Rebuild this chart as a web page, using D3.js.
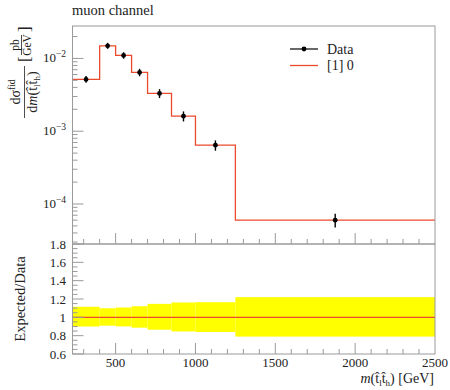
<!DOCTYPE html>
<html><head><meta charset="utf-8">
<script src="https://cdn.jsdelivr.net/npm/d3@7"></script>
<style>body{margin:0;background:#fff}svg{display:block}</style>
</head><body><svg id="c" width="450" height="390"></svg>
<script>
const binEdges = [230, 400, 500, 600, 700, 850, 1000, 1250, 2500];
const dataValues = [5.15e-3, 1.49e-2, 1.10e-2, 6.42e-3, 3.3e-3, 1.61e-3, 6.42e-4, 6.0e-5];
const predValues = [5.15e-3, 1.49e-2, 1.10e-2, 6.42e-3, 3.3e-3, 1.61e-3, 6.42e-4, 6.0e-5];
const relErrUp = [0.115, 0.099, 0.107, 0.121, 0.147, 0.162, 0.165, 0.22];
const relErrDn = [0.10, 0.091, 0.099, 0.113, 0.135, 0.154, 0.16, 0.21];
const xTickLabels = [500, 1000, 1500, 2000, 2500];
const yTickLabels = [-4, -3, -2];
const ratioTickLabels = [0.6, 0.8, 1, 1.2, 1.4, 1.6, 1.8];

const L = 72.5, R = 435, T = 26, M = 244, B = 354;
const gray = "#9a9a9a", red = "#ec4a2c", ink = "#222";
const FONT = "Liberation Serif";
const svg = d3.select("#c").attr("font-family", FONT);
const x = d3.scaleLinear().domain([binEdges[0], 2500]).range([L, R]);
const y = d3.scaleLog().domain([2.82e-5, 0.0279]).range([M, T]);
const yr = d3.scaleLinear().domain([0.6, 1.8]).range([B, M]);

const bins = dataValues.map((v, i) => ({x0: binEdges[i], x1: binEdges[i+1], v, p: predValues[i], up: relErrUp[i], dn: relErrDn[i]}));

// ratio band
svg.append("g").selectAll("rect").data(bins).join("rect")
  .attr("x", d => x(d.x0)).attr("width", d => x(d.x1) - x(d.x0))
  .attr("y", d => yr(1 + d.up)).attr("height", d => yr(1 - d.dn) - yr(1 + d.up))
  .attr("fill", "#ffff00");
// ratio line
const ratioLine = d3.line().curve(d3.curveStepAfter).x(d => x(d.x)).y(d => yr(d.r));
const rpts = bins.map(d => ({x: d.x0, r: d.p / d.v})).concat([{x: 2500, r: bins[bins.length-1].p / bins[bins.length-1].v}]);
svg.append("path").attr("d", ratioLine(rpts)).attr("fill", "none").attr("stroke", red).attr("stroke-width", 1.3);

// histogram
const hpts = bins.map(d => ({x: d.x0, v: d.p})).concat([{x: 2500, v: bins[bins.length-1].p}]);
const hline = d3.line().curve(d3.curveStepAfter).x(d => x(d.x)).y(d => y(d.v));
svg.append("path").attr("d", hline(hpts)).attr("fill", "none").attr("stroke", red).attr("stroke-width", 1.3);

// data points
const pg = svg.append("g");
pg.selectAll("line").data(bins).join("line")
  .attr("x1", d => x((d.x0 + d.x1) / 2)).attr("x2", d => x((d.x0 + d.x1) / 2))
  .attr("y1", d => y(d.v * (1 + d.up))).attr("y2", d => y(d.v * (1 - d.dn)))
  .attr("stroke", "#000").attr("stroke-width", 1.4);
pg.selectAll("circle").data(bins).join("circle")
  .attr("cx", d => x((d.x0 + d.x1) / 2)).attr("cy", d => y(d.v)).attr("r", 2.4).attr("fill", "#000");

// ticks
function xTicks(bottom) {
  const g = svg.append("g").attr("stroke", gray).attr("stroke-width", 1);
  const minors = d3.range(300, 2500, 100).filter(v => v % 500 !== 0);
  g.selectAll(".mi").data(minors).join("line").attr("x1", d => x(d)).attr("x2", d => x(d)).attr("y1", bottom).attr("y2", bottom - 5);
  g.selectAll(".ma").data(xTickLabels.filter(v => v < 2500)).join("line").attr("x1", d => x(d)).attr("x2", d => x(d)).attr("y1", bottom).attr("y2", bottom - 11);
}
xTicks(M); xTicks(B);

// log y ticks
const yg = svg.append("g").attr("stroke", gray);
const ymin = [];
for (let e = -5; e <= -2; e++) for (let k = 2; k <= 9; k++) { const v = k * Math.pow(10, e); if (v > 2.82e-5 && v < 0.0279) ymin.push(v); }
yg.selectAll(".mi").data(ymin).join("line").attr("x1", L).attr("x2", L + 5).attr("y1", d => y(d)).attr("y2", d => y(d));
yg.selectAll(".ma").data(yTickLabels).join("line").attr("x1", L).attr("x2", L + 11).attr("y1", d => y(Math.pow(10, d))).attr("y2", d => y(Math.pow(10, d)));
const ylab = svg.append("g").attr("fill", ink).selectAll("text").data(yTickLabels).join("text")
  .attr("x", 66).attr("y", d => y(Math.pow(10, d)) + 4).attr("text-anchor", "end").attr("font-size", 13);
ylab.append("tspan").text("10");
ylab.append("tspan").attr("dy", -5).attr("font-size", 9.5).text(d => "\u2212" + (-d));

// ratio y ticks
const rg = svg.append("g").attr("stroke", gray);
const rmin = d3.range(0.65, 1.8, 0.05).filter(v => Math.abs(v * 5 - Math.round(v * 5)) > 0.01);
rg.selectAll(".mi").data(rmin).join("line").attr("x1", L).attr("x2", L + 5).attr("y1", d => yr(d)).attr("y2", d => yr(d));
rg.selectAll(".ma").data(ratioTickLabels).join("line").attr("x1", L).attr("x2", L + 11).attr("y1", d => yr(d)).attr("y2", d => yr(d));
svg.append("g").attr("fill", ink).selectAll("text").data(ratioTickLabels).join("text")
  .attr("x", 66).attr("y", d => yr(d) + 4.5).attr("text-anchor", "end").attr("font-size", 13).text(d => d === 1 ? "1" : d.toFixed(1));

// x tick labels
svg.append("g").attr("fill", ink).selectAll("text").data(xTickLabels).join("text")
  .attr("x", d => x(d)).attr("y", 367).attr("text-anchor", "middle").attr("font-size", 13).text(d => d);

// frames
svg.append("rect").attr("x", L).attr("y", T).attr("width", R - L).attr("height", M - T).attr("fill", "none").attr("stroke", gray);
svg.append("rect").attr("x", L).attr("y", M).attr("width", R - L).attr("height", B - M).attr("fill", "none").attr("stroke", gray);

const tg = svg.append("g").attr("fill", ink);
// title
tg.append("text").attr("x", 72).attr("y", 15).attr("font-size", 14.5).text("muon channel");

// legend
svg.append("line").attr("x1", 290).attr("x2", 318).attr("y1", 49).attr("y2", 49).attr("stroke", "#000").attr("stroke-width", 1.2);
svg.append("circle").attr("cx", 304).attr("cy", 49).attr("r", 2.4).attr("fill", "#000");
tg.append("text").attr("x", 327).attr("y", 53.5).attr("font-size", 14).text("Data");
svg.append("line").attr("x1", 290).attr("x2", 318).attr("y1", 65.5).attr("y2", 65.5).attr("stroke", red).attr("stroke-width", 1.3);
tg.append("text").attr("x", 327).attr("y", 70).attr("font-size", 14).text("[1] 0");

// x label
const xl = tg.append("text").attr("x", 434).attr("y", 383).attr("text-anchor", "end").attr("font-size", 14);
xl.append("tspan").attr("font-style", "italic").text("m");
xl.append("tspan").text("(t\u0302");
xl.append("tspan").attr("font-size", 9).attr("dy", 3).text("l");
xl.append("tspan").attr("dy", -3).text("t\u0302");
xl.append("tspan").attr("font-size", 9).attr("dy", 3).text("h");
xl.append("tspan").attr("dy", -3).text(") [GeV]");

// ratio y label
tg.append("text").attr("transform", `translate(25,${(M + B) / 2}) rotate(-90)`).attr("text-anchor", "middle").attr("font-size", 14.5).text("Expected/Data");

// main y label
const yl = tg.append("g").attr("transform", "rotate(-90)");
const num = yl.append("text").attr("x", -92).attr("y", 20).attr("text-anchor", "middle").attr("font-size", 14);
num.append("tspan").text("d\u03c3");
num.append("tspan").attr("font-size", 9.5).attr("dy", -5).text("fid");
yl.append("line").attr("x1", -118).attr("x2", -66).attr("y1", 24.5).attr("y2", 24.5).attr("stroke", ink).attr("stroke-width", 0.8);
const den = yl.append("text").attr("x", -92).attr("y", 37).attr("text-anchor", "middle").attr("font-size", 14);
den.append("tspan").text("d");
den.append("tspan").attr("font-style", "italic").text("m");
den.append("tspan").text("(t\u0302");
den.append("tspan").attr("font-size", 9).attr("dy", 3).text("l");
den.append("tspan").attr("dy", -3).text("t\u0302");
den.append("tspan").attr("font-size", 9).attr("dy", 3).text("h");
den.append("tspan").attr("dy", -3).text(")");
yl.append("text").attr("x", -62).attr("y", 30).attr("font-size", 17).text("[");
yl.append("text").attr("x", -32).attr("y", 30).attr("font-size", 17).text("]");
yl.append("text").attr("x", -45).attr("y", 19).attr("text-anchor", "middle").attr("font-size", 11.5).text("pb");
yl.append("line").attr("x1", -55).attr("x2", -35).attr("y1", 21.5).attr("y2", 21.5).attr("stroke", ink).attr("stroke-width", 0.8);
yl.append("text").attr("x", -45).attr("y", 31).attr("text-anchor", "middle").attr("font-size", 11.5).text("GeV");
</script></body></html>
